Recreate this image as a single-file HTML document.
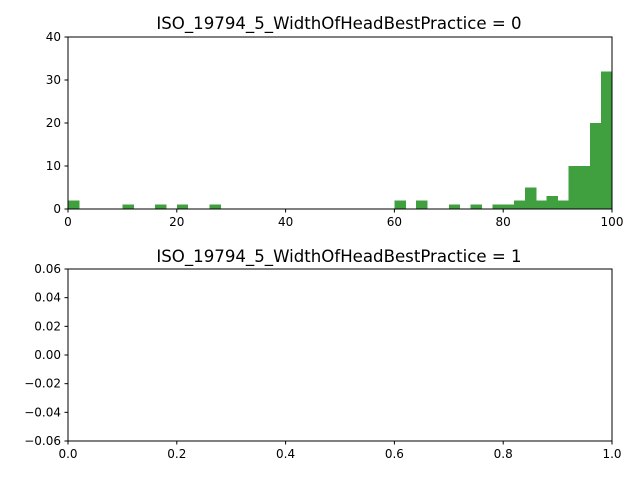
<!DOCTYPE html>
<html><head><meta charset="utf-8"><style>
body{margin:0;background:#fff}
svg{display:block;font-family:"DejaVu Sans","Liberation Sans",sans-serif}
</style></head><body>
<svg id="c" width="640" height="480"></svg>
<script>
const binStarts=[0,10,16,20,26,60,64,70,74,78,80,82,84,86,88,90,92,94,96,98];
const counts=[2,1,1,1,1,2,2,1,1,1,1,2,5,2,3,2,10,10,20,32];
const binWidth=2;
const xTicks1=[0,20,40,60,80,100];
const yTicks1=[0,10,20,30,40];
const xTicks2=["0.0","0.2","0.4","0.6","0.8","1.0"];
const yTicks2=["0.06","0.04","0.02","0.00","−0.02","−0.04","−0.06"];
const yVals2=[0.06,0.04,0.02,0,-0.02,-0.04,-0.06];
const svg=document.getElementById('c');
const NS='http://www.w3.org/2000/svg';
function mk(t,a,p){const e=document.createElementNS(NS,t);for(const k in a)e.setAttribute(k,a[k]);(p||svg).appendChild(e);return e;}
const L=68,R=612;
const T1=37,B1=209;
const x1=v=>L+(v/100)*(R-L), y1=v=>B1-(v/40)*(B1-T1);
const g1=mk('g',{'shape-rendering':'crispEdges'});


binStarts.forEach((s,i)=>{
  const r=mk('rect',{x:x1(s),y:y1(counts[i]),width:x1(s+binWidth)-x1(s)+0.5,height:B1-y1(counts[i]),fill:'#40a040'},g1);
  
  
});
function frame(T,B,name){const r=mk('rect',{x:L,y:T,width:R-L,height:B-T,fill:'none',stroke:'#000','stroke-width':1});
}
frame(T1,B1,'axes-frame-top');
xTicks1.forEach(v=>{const x=x1(v);mk('line',{x1:x,x2:x,y1:B1,y2:B1+3.5,stroke:'#000'});
 const t=mk('text',{x:x,y:B1+17,'font-size':12,'text-anchor':'middle'});t.textContent=v;
 });
yTicks1.forEach(v=>{const y=y1(v);mk('line',{x1:L-3.5,x2:L,y1:y,y2:y,stroke:'#000'});
 const t=mk('text',{x:L-7,y:y+4,'font-size':12,'text-anchor':'end'});t.textContent=v;
 });
const t1=mk('text',{x:339,y:29,'font-size':16.6,'text-anchor':'middle'});t1.textContent='ISO_19794_5_WidthOfHeadBestPractice = 0';

const T2=269,B2=441;
frame(T2,B2,'axes-frame-bottom');
xTicks2.forEach((lab,i)=>{const x=L+i/5*(R-L);mk('line',{x1:x,x2:x,y1:B2,y2:B2+3.5,stroke:'#000'});
 const t=mk('text',{x:x,y:B2+17,'font-size':12,'text-anchor':'middle'});t.textContent=lab;
 });
yTicks2.forEach((lab,i)=>{const y=T2+(0.06-yVals2[i])/0.12*(B2-T2);mk('line',{x1:L-3.5,x2:L,y1:y,y2:y,stroke:'#000'});
 const t=mk('text',{x:L-7,y:y+4,'font-size':12,'text-anchor':'end'});t.textContent=lab;
 });
const t2=mk('text',{x:339,y:262,'font-size':16.6,'text-anchor':'middle'});t2.textContent='ISO_19794_5_WidthOfHeadBestPractice = 1';

</script>
</body></html>
